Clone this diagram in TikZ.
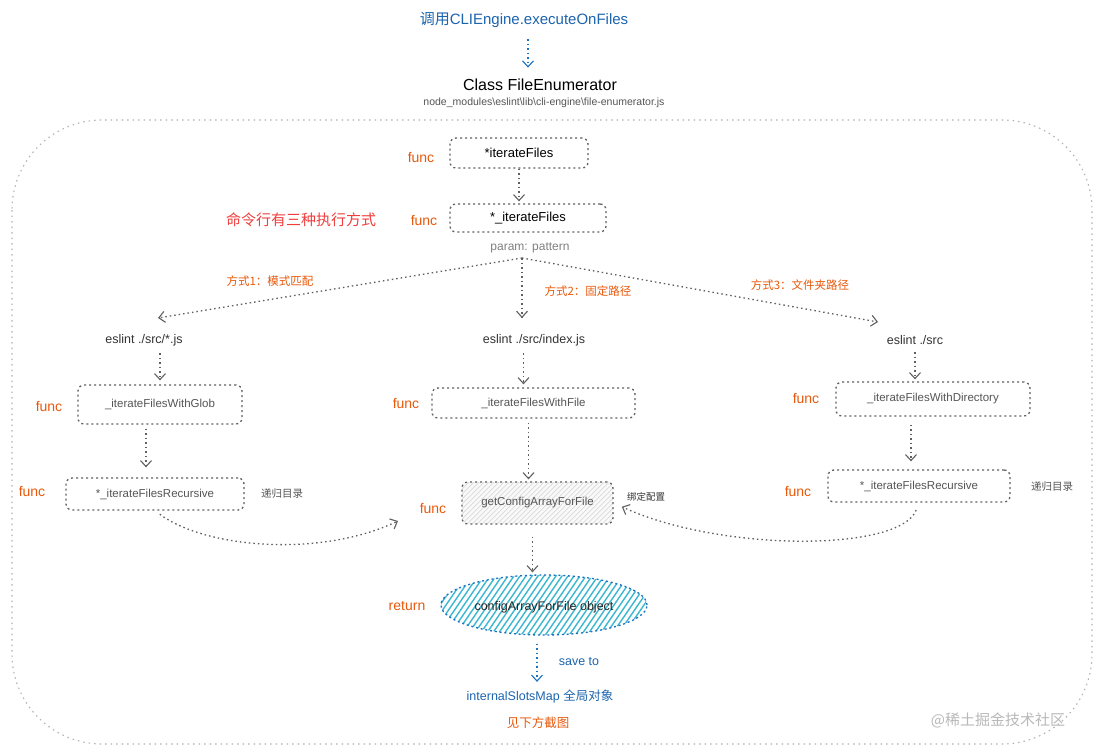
\documentclass[tikz,border=0pt]{standalone}
\usepackage{fontspec}
\setmainfont{Liberation Sans}
\newfontfamily\cjk{Noto Sans CJK SC}
\usetikzlibrary{arrows.meta,shapes.geometric}
\definecolor{funcor}{HTML}{E8590C}
\definecolor{titleblue}{HTML}{1C64AE}
\definecolor{redt}{HTML}{F03E3E}
\definecolor{boxgray}{HTML}{606060}
\definecolor{textgray}{HTML}{555555}
\definecolor{hatchcyan}{HTML}{3BB8D0}
\definecolor{ellblue}{HTML}{1971C2}
\begin{document}
\begin{tikzpicture}[x=1pt,y=-1pt,
  fnbox/.style={draw=boxgray, line width=1.3pt, dash pattern=on 2pt off 3pt, rounded corners=6pt, inner sep=0pt, font=\fontsize{11.5}{13}\selectfont, text=textgray},
  hbox/.style={fnbox, font=\fontsize{13}{15}\selectfont, text=black},
  arr/.style={draw=boxgray, line width=1.3pt, dash pattern=on 1.5pt off 3pt, -{Straight Barb[length=6pt,width=11pt,line width=1.1pt]}},
  barr/.style={arr, draw=ellblue},
  functxt/.style={text=funcor, font=\fontsize{14}{16}\selectfont},
  waylbl/.style={text=funcor, font=\cjk\fontsize{11.5}{13}\selectfont},
  cmdtxt/.style={text=black!80, font=\fontsize{12.5}{14}\selectfont},
  notetxt/.style={text=textgray, font=\cjk\fontsize{10.5}{12}\selectfont}
]
\useasboundingbox (0,0) rectangle (1098,752);
\fill[white] (0,0) rectangle (1098,752);
% outer frame
\draw[gray!60, line width=1.1pt, dash pattern=on 1.5pt off 4pt, rounded corners=90pt] (12,120) rectangle (1092,744);

% header
\node[text=titleblue, font=\fontsize{15}{17}\selectfont] (title) at (524,20) {{\cjk 调用}CLIEngine.executeOnFiles};
\node[font=\fontsize{16}{18}\selectfont] (cls) at (540,85) {Class FileEnumerator};
\node[text=textgray, font=\fontsize{10.5}{12}\selectfont] (path) at (544,103) {node\_modules\textbackslash eslint\textbackslash lib\textbackslash cli-engine\textbackslash file-enumerator.js};
\draw[barr, shorten <=8pt, shorten >=8pt] ([xshift=4pt]title.south) -- ([xshift=4pt]title.south |- cls.north);

% iterateFiles
\node[hbox, minimum width=138, minimum height=30] (b1) at (519,153) {*iterateFiles};
\node[functxt] (f1) at (421,158) {func};
\node[hbox, minimum width=156, minimum height=28] (b2) at (528,218) {*\_iterateFiles};
\node[functxt] (f2) at (424,221) {func};
\node[text=redt, font=\cjk\fontsize{15}{17}\selectfont] (cmd) at (301,220) {命令行有三种执行方式};
\node[text=gray, font=\fontsize{12}{14}\selectfont] (param) at (530,248) {param: pattern};
\draw[arr, shorten >=2pt] (b1.south) -- (b1.south |- b2.north);

% fan out
\coordinate (fan) at (522,258);
\coordinate (t1) at (158,318);
\coordinate (t2) at (522,318);
\coordinate (t3) at (878,322);
\draw[arr] (fan) -- (t1);
\draw[arr] (fan) -- (t2);
\draw[arr] (fan) -- (t3);
\node[waylbl] (m1) at (270,281) {方式1：模式匹配};
\node[waylbl] (m2) at (588,291) {方式2：固定路径};
\node[waylbl] (m3) at (800,285) {方式3：文件夹路径};

\node[cmdtxt] (e1) at (144,340) {eslint ./src/*.js};
\node[cmdtxt] (e2) at (534,340) {eslint ./src/index.js};
\node[cmdtxt] (e3) at (915,340) {eslint ./src};

% left column
\node[fnbox, minimum width=164, minimum height=39] (g1) at (160,404.5) {\_iterateFilesWithGlob};
\node[functxt] (f3) at (49,406) {func};
\draw[arr, shorten <=4pt, shorten >=4pt] (g1.north |- e1.south) -- (g1.north);
\node[fnbox, minimum width=178, minimum height=32] (r1) at (155,494) {*\_iterateFilesRecursive};
\node[functxt] (f4) at (32,491) {func};
\node[notetxt] (n1) at (282,494) {递归目录};
\draw[arr, shorten <=4pt, shorten >=10pt] ([xshift=-14pt]g1.south) -- ([xshift=-14pt]g1.south |- r1.north);

% middle column
\node[fnbox, minimum width=203, minimum height=30] (w1) at (533.5,403) {\_iterateFilesWithFile};
\node[functxt] (f5) at (406,403) {func};
\draw[arr, shorten <=4pt, shorten >=3pt] ([xshift=-10pt]w1.north |- e2.south) -- ([xshift=-10pt]w1.north);
% hatched box
\begin{scope}
  \clip[rounded corners=6pt] (462,482) rectangle (613,524);
  \fill[gray!5] (462,482) rectangle (613,524);
  \foreach \hx in {420,425,...,620} {\draw[gray!30, line width=0.7pt] (\hx,526) -- (\hx+46,480);}
\end{scope}
\node[fnbox, minimum width=151, minimum height=42] (gc) at (537.5,503) {getConfigArrayForFile};
\node[functxt] (f6) at (433,508) {func};
\node[text=black!80, font=\cjk\fontsize{9.5}{11}\selectfont] (n2) at (646,497) {绑定配置};
\draw[arr, shorten <=4pt, shorten >=2pt] ([xshift=-5pt]w1.south) -- ([xshift=-5pt]w1.south |- gc.north);

% right column
\node[fnbox, minimum width=194, minimum height=34] (d1) at (933,399) {\_iterateFilesWithDirectory};
\node[functxt] (f7) at (806,398) {func};
\draw[arr, shorten <=4pt, shorten >=2pt] (e3.south) -- (e3.south |- d1.north);
\node[fnbox, minimum width=182, minimum height=32] (r2) at (919,486) {*\_iterateFilesRecursive};
\node[functxt] (f8) at (798,491) {func};
\node[notetxt] (n3) at (1052,487) {递归目录};
\draw[arr, shorten <=8pt, shorten >=8pt] ([xshift=-22pt]d1.south) -- ([xshift=-22pt]d1.south |- r2.north);

% curves into getConfigArrayForFile
\coordinate (cl) at (398,521);
\draw[arr, shorten <=6pt] (r1.south) .. controls (205,548) and (320,558) .. (cl);
\draw[arr, shorten <=8pt, shorten >=9pt] (r2.south) .. controls (900,552) and (720,552) .. (gc.east);

% result ellipse with hatch
\begin{scope}
  \clip (544,605) ellipse [x radius=103pt, y radius=30pt];
  \foreach \hx in {400,406,...,690} {\draw[hatchcyan, line width=1.4pt] (\hx,637) -- (\hx+44,573);}
\end{scope}
\node[ellipse, draw=ellblue, line width=1.3pt, dash pattern=on 2pt off 2.8pt, minimum width=206, minimum height=60, inner sep=0pt] (ell) at (544,605) {};
\node[font=\fontsize{12.5}{14}\selectfont, text=black!85] (ellt) at (544,607) {configArrayForFile object};
\node[functxt] (f9) at (407,606) {return};
\draw[arr, shorten <=12pt, shorten >=2pt] ([xshift=-5pt]gc.south) -- ([xshift=-5pt]gc.south |- ell.north);

\node[text=titleblue, font=\fontsize{12.5}{14}\selectfont] (ism) at (540,696) {internalSlotsMap {\cjk 全局对象}};
\node[text=titleblue, font=\fontsize{12.5}{14}\selectfont] (save) at (579,662) {save to};
\draw[barr, shorten <=8pt, shorten >=4pt] ([xshift=-7pt]ell.south) -- ([xshift=-7pt]ell.south |- ism.north);
\node[text=funcor, font=\cjk\fontsize{12.5}{14}\selectfont] (see) at (538,723) {见下方截图};

\node[text=gray!55, font=\cjk\fontsize{15}{17}\selectfont] (wm) at (998,720) {@稀土掘金技术社区};
\end{tikzpicture}
\end{document}
